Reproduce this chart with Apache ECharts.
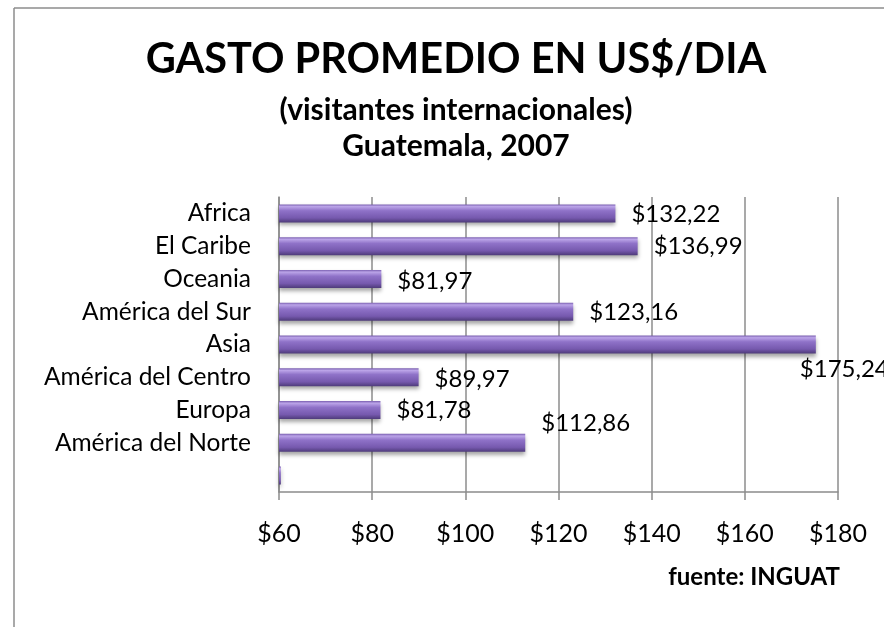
<!DOCTYPE html>
<html>
<head>
<meta charset="utf-8">
<script src="https://cdn.jsdelivr.net/npm/echarts@6/dist/echarts.min.js"></script>
<style>
  html, body { margin: 0; padding: 0; background: #fff; }
  #chart { width: 884px; height: 627px; }
</style>
</head>
<body>
<div id="chart"></div>
<script>
// regiones, de arriba hacia abajo
var regiones = ["Africa", "El Caribe", "Oceania", "América del Sur", "Asia",
  "América del Centro", "Europa", "América del Norte", ""];
// gasto promedio US$/dia
var gasto = [132.22, 136.99, 81.97, 123.16, 175.24, 89.97, 81.78, 112.86, 60.4];
// desplazamiento de cada etiqueta (como en el original)
var etiquetaDesp = [[0, 1], [0, 0], [0, 2], [0, 1], [-32, 25], [0, 2], [0, 0], [0, -20], [0, 0]];

var ejeMin = 60, ejeMax = 180, ejePaso = 20;

var fuente = "Lato, 'Open Sans', sans-serif";
var chart = echarts.init(document.getElementById("chart"));

//formato $132,22
function dinero (v) {
  return "$" + v.toFixed(2).replace(".", ",");
}

var barColor = new echarts.graphic.LinearGradient(0, 0, 0, 1, [
  { offset: 0, color: "#7a5fb0" },
  { offset: 0.12, color: "#bba4e8" },
  { offset: 0.35, color: "#8f72c8" },
  { offset: 0.75, color: "#7659ae" },
  { offset: 1, color: "#4e3b7a" }
]);

var datos = [];
for (var i = 0; i < gasto.length; i++) {
  datos.push({
    value: gasto[i],
    label: {
      show: regiones[i] !== "",
      offset: etiquetaDesp[i]
    }
  });
}

chart.setOption({
  backgroundColor: "#fff",
  animation: false,
  grid: { left: 279, right: 46, top: 197, bottom: 135 },
  xAxis: {
    type: "value",
    min: ejeMin,
    max: ejeMax,
    interval: ejePaso,
    axisLine: { show: true, lineStyle: { color: "#8c8c8c", width: 1.5 } },
    axisTick: { show: true, length: 8, lineStyle: { color: "#8c8c8c", width: 1.5 } },
    splitLine: { show: true, lineStyle: { color: "#8c8c8c", width: 1.5 } },
    axisLabel: {
      margin: 29,
      color: "#000",
      fontFamily: fuente,
      fontSize: 25,
      formatter: function (v) { return "$" + v; }
    }
  },
  yAxis: {
    type: "category",
    inverse: true,
    data: regiones,
    axisLine: { show: true, lineStyle: { color: "#8c8c8c", width: 1.5 } },
    axisTick: { show: false },
    axisLabel: { margin: 28, color: "#000", fontFamily: fuente, fontSize: 24.5 }
  },
  series: [{
    type: "bar",
    data: datos,
    barWidth: 18,
    itemStyle: {
      color: barColor,
      shadowColor: "rgba(0,0,0,0.35)",
      shadowBlur: 4,
      shadowOffsetY: 3
    },
    label: {
      show: true,
      position: "right",
      distance: 16,
      color: "#000",
      fontFamily: fuente,
      fontSize: 24,
      formatter: function (p) { return dinero(p.value); }
    }
  }],
  graphic: [
    { type: "line", shape: { x1: 14, y1: 8, x2: 884, y2: 8 }, style: { stroke: "#8c8c8c", lineWidth: 1.5 } },
    { type: "line", shape: { x1: 14, y1: 8, x2: 14, y2: 627 }, style: { stroke: "#8c8c8c", lineWidth: 1.5 } },
    { type: "text", x: 456, y: 60, style: { text: "GASTO PROMEDIO EN US$/DIA", font: "bold 41.5px " + fuente, fill: "#000", textAlign: "center", textVerticalAlign: "middle" } },
    { type: "text", x: 456, y: 110, style: { text: "(visitantes internacionales)", font: "bold 30px " + fuente, fill: "#000", textAlign: "center", textVerticalAlign: "middle" } },
    { type: "text", x: 456, y: 146, style: { text: "Guatemala, 2007", font: "bold 30px " + fuente, fill: "#000", textAlign: "center", textVerticalAlign: "middle" } },
    { type: "text", x: 840, y: 577, style: { text: "fuente: INGUAT", font: "bold 24px " + fuente, fill: "#000", textAlign: "right", textVerticalAlign: "middle" } }
  ]
});
</script>
</body>
</html>
